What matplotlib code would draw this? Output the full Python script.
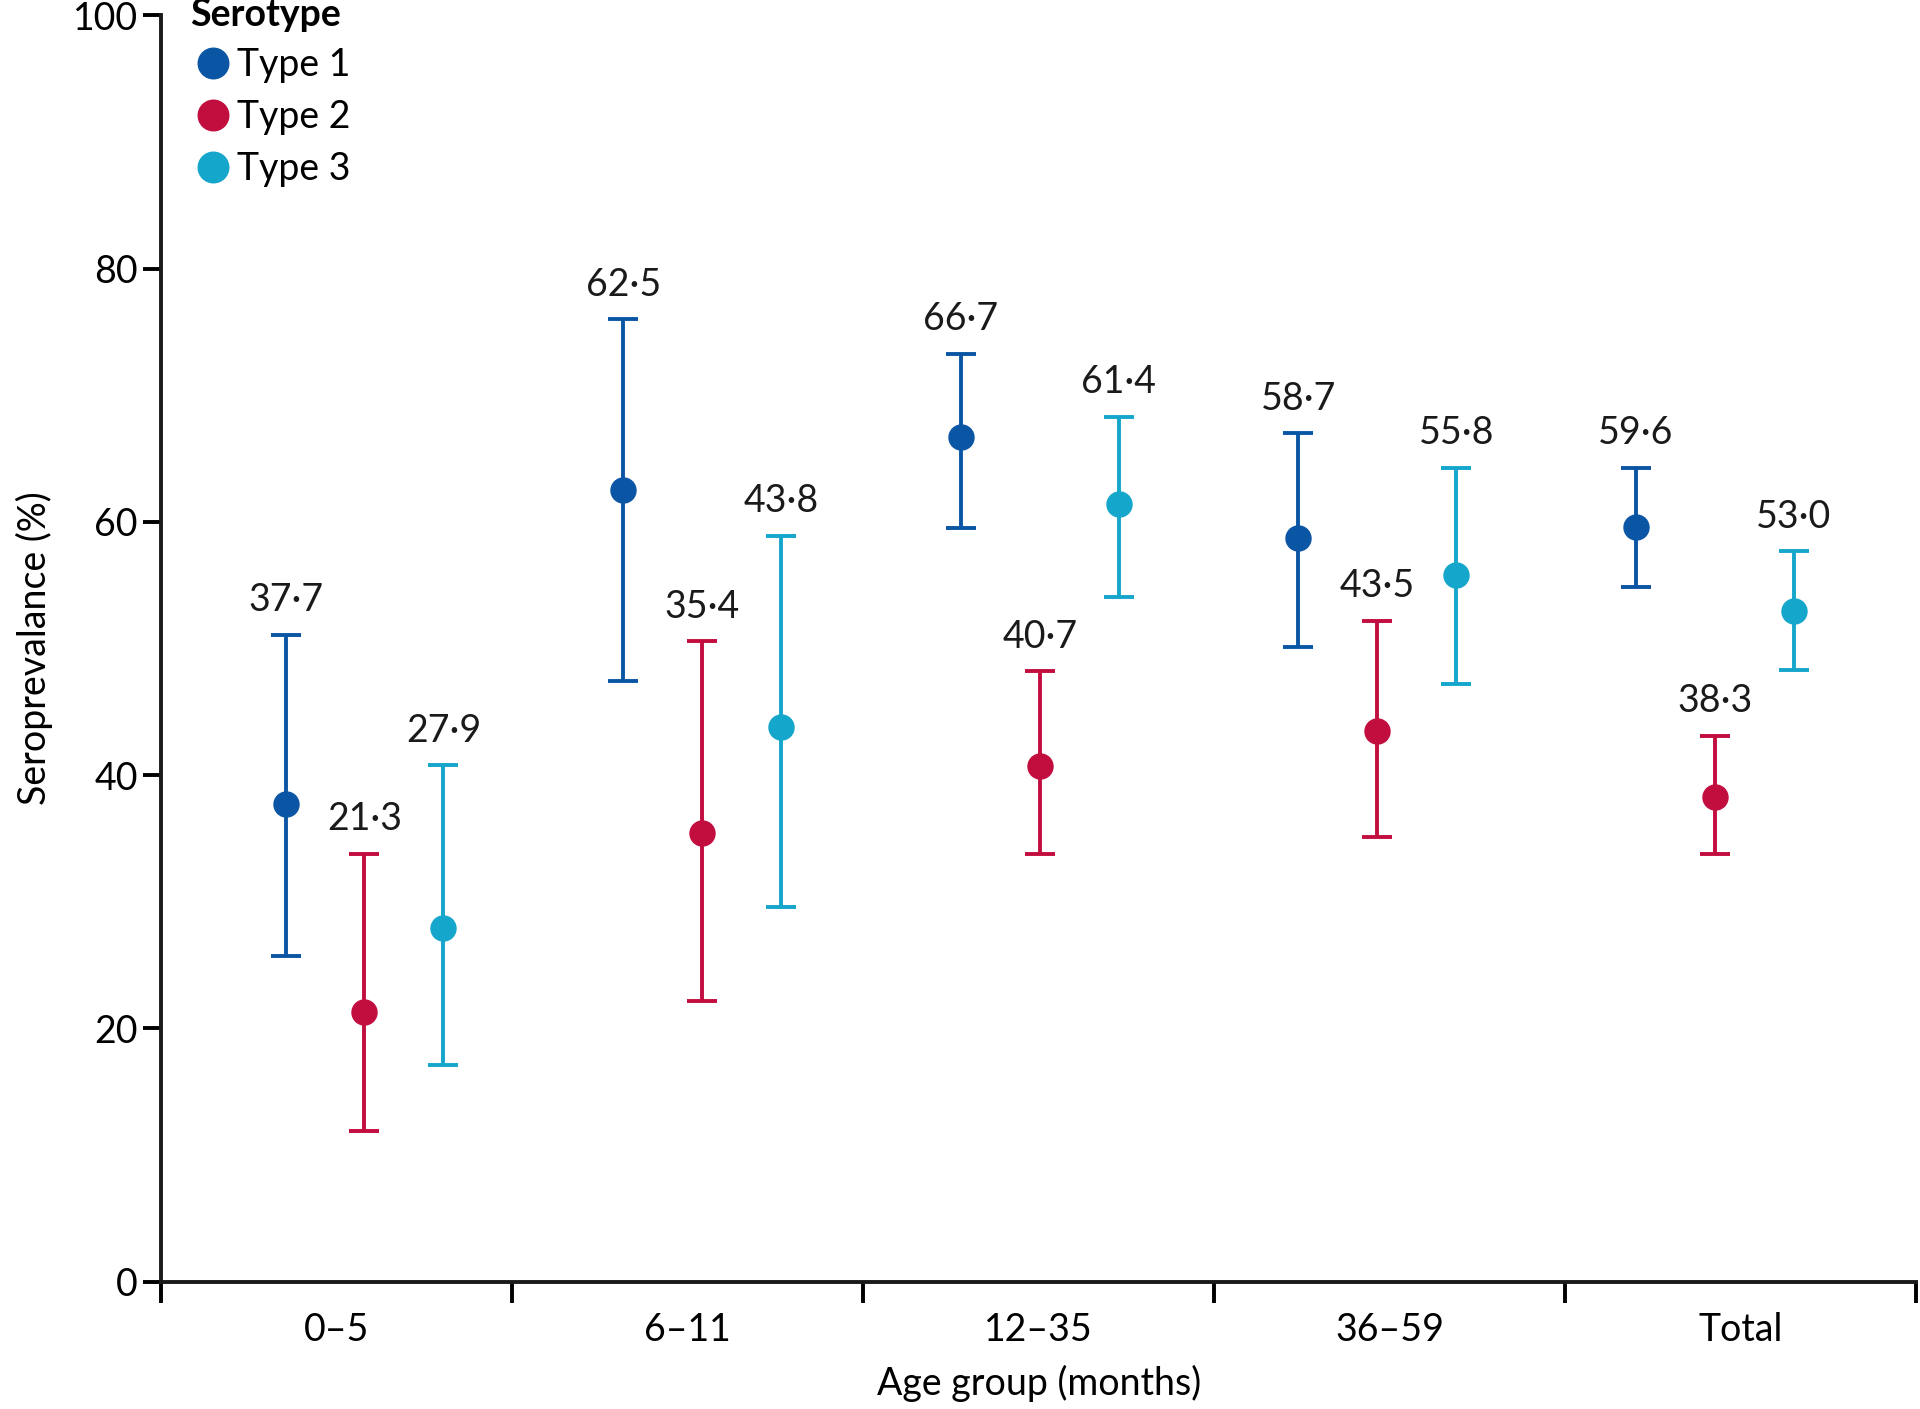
import numpy as np
import matplotlib
matplotlib.use("Agg")
import matplotlib.pyplot as plt
from matplotlib.lines import Line2D

plt.rcParams['font.family'] = ['Lato', 'DejaVu Sans']

# Data
groups = ['0–5', '6–11', '12–35', '36–59', 'Total']
types = ['Type 1', 'Type 2', 'Type 3']
colors = ['#0b56a4', '#c20d3f', '#15a6cb']

type1 = [37.7, 62.5, 66.7, 58.7, 59.6]
type1_lo = [25.7, 47.4, 59.5, 50.1, 54.9]
type1_hi = [51.1, 76.0, 73.3, 67.0, 64.3]

type2 = [21.3, 35.4, 40.7, 43.5, 38.3]
type2_lo = [11.9, 22.2, 33.8, 35.1, 33.8]
type2_hi = [33.8, 50.6, 48.2, 52.2, 43.1]

type3 = [27.9, 43.8, 61.4, 55.8, 53.0]
type3_lo = [17.1, 29.6, 54.1, 47.2, 48.3]
type3_hi = [40.8, 58.9, 68.3, 64.3, 57.7]

series = [(type1, type1_lo, type1_hi), (type2, type2_lo, type2_hi), (type3, type3_lo, type3_hi)]

fig = plt.figure(figsize=(19.2, 14.09), dpi=100)
ax = fig.add_axes([0.084, 0.0904, 0.914, 0.8986])

# point positions: groups slightly compressed compared with tick spacing
group_x = 0.579 + 0.962 * np.arange(len(groups))
offset = 0.225

for j, (vals, lo, hi) in enumerate(series):
    vals = np.array(vals)
    lo = np.array(lo)
    hi = np.array(hi)
    xs = group_x + (j - 1) * offset
    ax.errorbar(xs, vals, yerr=[vals - lo, hi - vals], fmt='o', color=colors[j],
                markersize=18, elinewidth=2.8, capsize=11, capthick=2.8)
    for x, v, h in zip(xs, vals, hi):
        ax.text(x, h + 1.3, f'{v:.1f}'.replace('.', '·'), ha='center', va='bottom',
                fontsize=27, color='#1a1a1a')

ax.set_xlim(0, 5)
ax.set_ylim(0, 100)
ax.set_yticks([0, 20, 40, 60, 80, 100])
ax.set_xticks(np.arange(0, 6))
ax.set_xticklabels([])
ax.set_xticks(np.arange(len(groups)) + 0.5, minor=True)
ax.set_xticklabels(groups, minor=True)
ax.tick_params(axis='x', which='minor', length=0, labelsize=27, pad=22)
ax.tick_params(axis='x', which='major', length=15, width=2.8, direction='out')
ax.tick_params(axis='y', length=13, width=2.8, labelsize=27, pad=4)

for s in ['top', 'right']:
    ax.spines[s].set_visible(False)
for s in ['left', 'bottom']:
    ax.spines[s].set_linewidth(2.8)
    ax.spines[s].set_color('#1a1a1a')

ax.set_xlabel('Age group (months)', fontsize=27, labelpad=12)
ax.set_ylabel('Seroprevalance (%)', fontsize=27, labelpad=14)

handles = [Line2D([], [], marker='o', linestyle='none', color=c, markersize=22) for c in colors]
leg = ax.legend(handles, types, title='Serotype', loc='upper left', bbox_to_anchor=(0.008, 1.026),
                frameon=False, fontsize=27, title_fontsize=27, handletextpad=0.05,
                labelspacing=0.42, borderaxespad=0, handlelength=1.2)
leg._legend_box.align = 'left'
leg.get_title().set_fontweight('bold')

fig.savefig('out.png', dpi=100)
